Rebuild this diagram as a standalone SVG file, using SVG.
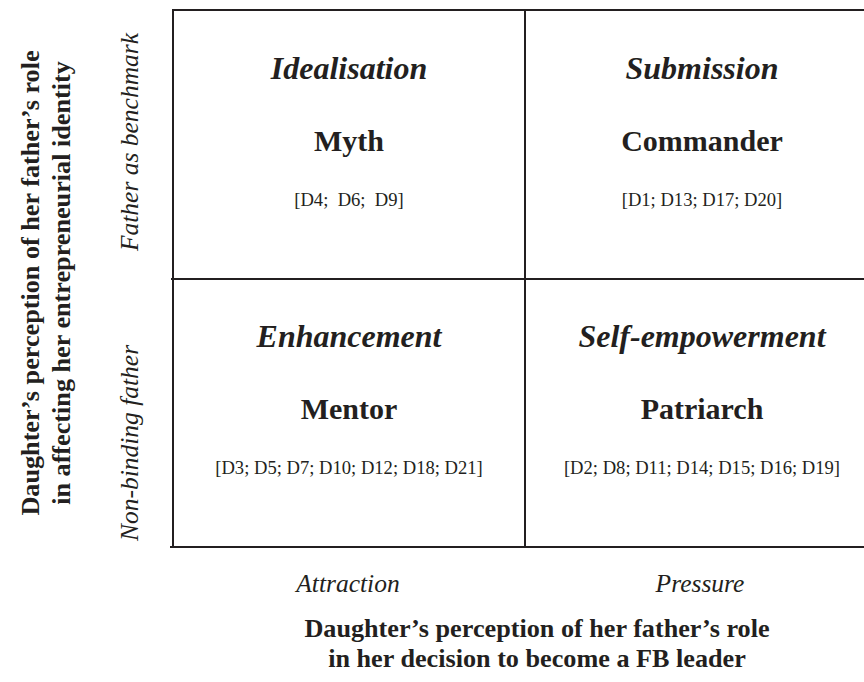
<svg xmlns="http://www.w3.org/2000/svg" width="864" height="682" viewBox="0 0 864 682">
<style>
text{font-family:"Liberation Serif","Times New Roman",serif;fill:#231f20;text-anchor:middle}
.h{font-size:32px;font-weight:bold;font-style:italic}
.t{font-size:30px;font-weight:bold}
.c{font-size:18.6px}
.ax{font-size:25.5px;font-style:italic}
.ti{font-size:26.2px;font-weight:bold}
.ln{stroke:#231f20;stroke-width:2;fill:none}
</style>
<rect width="864" height="682" fill="#fff"/>
<g id="grid">
<line class="ln" x1="172" y1="10" x2="864" y2="10"/>
<line class="ln" x1="171" y1="279" x2="864" y2="279"/>
<line class="ln" x1="170" y1="547" x2="864" y2="547"/>
<line class="ln" x1="173" y1="9" x2="173" y2="548"/>
<line class="ln" x1="525" y1="9" x2="525" y2="548"/>
</g>
<g id="q-idealisation">
<text class="h" x="349" y="79">Idealisation</text>
<text class="t" x="349" y="151">Myth</text>
<text class="c" x="349" y="206" xml:space="preserve">[D4;  D6;  D9]</text>
</g>
<g id="q-submission">
<text class="h" x="702" y="79">Submission</text>
<text class="t" x="702" y="151">Commander</text>
<text class="c" x="702" y="206">[D1; D13; D17; D20]</text>
</g>
<g id="q-enhancement">
<text class="h" x="349" y="347">Enhancement</text>
<text class="t" x="349" y="419">Mentor</text>
<text class="c" x="349" y="474">[D3; D5; D7; D10; D12; D18; D21]</text>
</g>
<g id="q-selfempowerment">
<text class="h" x="702" y="347">Self-empowerment</text>
<text class="t" x="702" y="419">Patriarch</text>
<text class="c" x="702" y="474">[D2; D8; D11; D14; D15; D16; D19]</text>
</g>
<g id="x-axis">
<text class="ax" x="348" y="592">Attraction</text>
<text class="ax" x="700" y="592">Pressure</text>
<text class="ti" x="537" y="637">Daughter’s perception of her father’s role</text>
<text class="ti" x="537" y="667">in her decision to become a FB leader</text>
</g>
<g id="y-axis">
<text class="ax" transform="translate(138,142) rotate(-90)">Father as benchmark</text>
<text class="ax" transform="translate(138,443) rotate(-90)">Non-binding father</text>
<text class="ti" transform="translate(39,283) rotate(-90)">Daughter’s perception of her father’s role</text>
<text class="ti" transform="translate(70,283) rotate(-90)">in affecting her entrepreneurial identity</text>
</g>
</svg>
